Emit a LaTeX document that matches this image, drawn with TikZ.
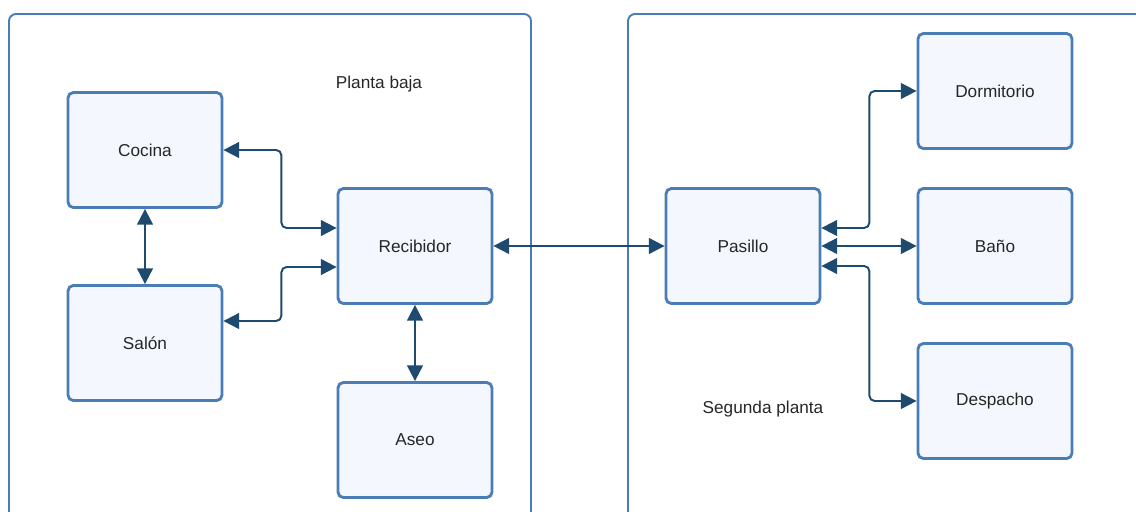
\documentclass[tikz,border=0pt]{standalone}
\usepackage{fontspec}
\setmainfont{Liberation Sans}
\usetikzlibrary{arrows.meta,calc}
\definecolor{boxline}{HTML}{4A7DB5}
\definecolor{boxfill}{HTML}{F4F8FE}
\definecolor{linkcol}{HTML}{1F4A70}
\tikzset{
  room/.style={draw=boxline, fill=boxfill, line width=1.6pt, rounded corners=3pt,
    minimum width=3.08cm, minimum height=2.3cm, inner sep=0pt,
    font=\fontsize{9.8}{12}\selectfont, text=black!85},
  floorframe/.style={draw=boxline, line width=1.1pt, rounded corners=4pt},
  link/.style={draw=linkcol, line width=1.1pt, rounded corners=3pt,
    {Triangle[length=9pt,width=9pt]}-{Triangle[length=9pt,width=9pt]}},
  caption/.style={font=\fontsize{9.8}{12}\selectfont, text=black!85}
}
\begin{document}
\begin{tikzpicture}[x=0.02cm, y=-0.02cm]
  \useasboundingbox (0,0) rectangle (1136,511);
  \clip (0,0) rectangle (1136,511);
  % floor frames (open at the bottom / right edge)
  \draw[floorframe] (9,530) -- (9,14) -- (531,14) -- (531,530);
  \draw[floorframe] (628,530) -- (628,14) -- (1150,14);
  % ground floor
  \node[caption] (pb) at (379,84) {Planta baja};
  \node[room] (cocina) at (145,150) {Cocina};
  \node[room] (salon) at (145,343) {Salón};
  \node[room] (recib) at (415,246) {Recibidor};
  \node[room] (aseo) at (415,440) {Aseo};
  % upper floor
  \node[caption] (sp) at (763,409) {Segunda planta};
  \node[room] (pasillo) at (743,246) {Pasillo};
  \node[room] (dorm) at (995,91) {Dormitorio};
  \node[room] (bano) at (995,246) {Baño};
  \node[room] (desp) at (995,401) {Despacho};
  % links
  \draw[link] (cocina.east) -- ++(58,0) |- ($(recib.west)+(0,-18)$);
  \draw[link] ($(salon.east)+(0,-22)$) -- ++(58,0) |- ($(recib.west)+(0,21)$);
  \draw[link] (cocina.south) -- (salon.north);
  \draw[link] (recib.south) -- (aseo.north);
  \draw[link] (recib.east) -- (pasillo.west);
  \draw[link] ($(pasillo.east)+(0,-18)$) -- ++(48,0) |- (dorm.west);
  \draw[link] (pasillo.east) -- (bano.west);
  \draw[link] ($(pasillo.east)+(0,20)$) -- ++(48,0) |- (desp.west);
\end{tikzpicture}
\end{document}
